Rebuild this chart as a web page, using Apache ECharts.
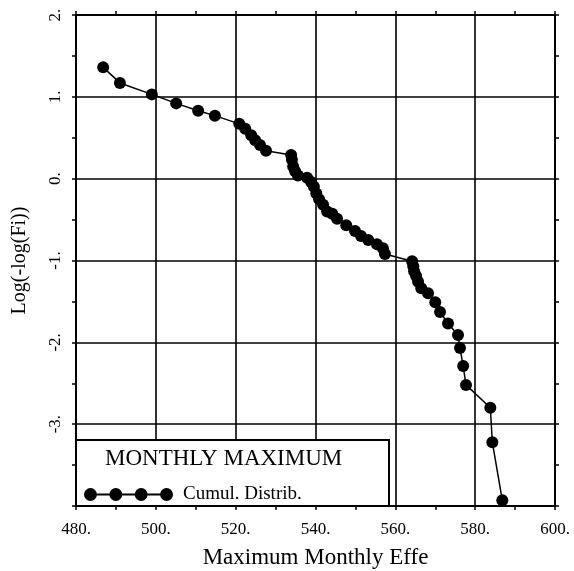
<!DOCTYPE html>
<html>
<head>
<meta charset="utf-8">
<script src="https://cdn.jsdelivr.net/npm/echarts@6/dist/echarts.min.js"></script>
<style>
  html, body { margin: 0; padding: 0; background: #fff; }
  #chart { width: 574px; height: 571px; }
</style>
</head>
<body>
<div id="chart"></div>
<script>
const xValues = [
  486.8, 491.0, 499.0, 505.1, 510.6, 514.8, 520.9, 522.4, 523.9, 524.9,
  526.1, 527.6, 533.9, 534.1, 534.4, 534.9, 535.6, 537.9, 538.9, 539.6,
  540.2, 540.9, 541.9, 542.9, 544.2, 545.4, 547.7, 549.9, 551.4, 553.2,
  555.4, 556.9, 557.4, 564.2, 564.5, 564.7, 565.2, 565.7, 566.5, 568.2,
  570.0, 571.2, 573.2, 575.7, 576.2, 577.0, 577.7, 583.8, 584.3, 586.8,
];
const yValues = [
  1.36, 1.17, 1.03, 0.92, 0.83, 0.77, 0.67, 0.61, 0.53, 0.47,
  0.41, 0.34, 0.29, 0.23, 0.15, 0.09, 0.04, 0.01, -0.04, -0.10,
  -0.18, -0.25, -0.32, -0.40, -0.43, -0.49, -0.57, -0.64, -0.70, -0.75,
  -0.80, -0.85, -0.92, -1.01, -1.07, -1.13, -1.19, -1.26, -1.34, -1.40,
  -1.51, -1.63, -1.77, -1.91, -2.07, -2.29, -2.52, -2.80, -3.22, -3.93,
];
const xTicks = [480, 500, 520, 540, 560, 580, 600];
const yTicks = [-3, -2, -1, 0, 1, 2];
const seriesName = "Cumul. Distrib.";
const boxTitle = "MONTHLY MAXIMUM";

const serif = "Liberation Serif";
const ink = "#000";

// legend icon: four dots joined by a line
const dotX = [6.5, 32, 57.5, 83];
let iconPath = "";
dotX.forEach((cx, i) => {
  iconPath += `M${cx - 6.5},6.5 A6.5,6.5 0 1,1 ${cx + 6.5},6.5 A6.5,6.5 0 1,1 ${cx - 6.5},6.5 Z `;
  if (i < dotX.length - 1) {
    const next = dotX[i + 1];
    iconPath += `M${cx + 6},5.5 L${next - 6},5.5 L${next - 6},7.5 L${cx + 6},7.5 Z `;
  }
});

const chart = echarts.init(document.getElementById("chart"));

const tickStyle = { color: ink, width: 1.5 };
const baseX = {
  type: "value",
  min: xTicks[0],
  max: xTicks[xTicks.length - 1],
  interval: xTicks[1] - xTicks[0],
  axisLine: { show: true, onZero: false, lineStyle: { color: ink, width: 2 } },
  axisTick: { show: true, length: 4, lineStyle: tickStyle },
  minorTick: { show: true, splitNumber: 2, length: 4, lineStyle: tickStyle },
};
const baseY = {
  type: "value",
  min: -4,
  max: yTicks[yTicks.length - 1],
  interval: 1,
  axisLine: { show: true, onZero: false, lineStyle: { color: ink, width: 2 } },
  axisTick: { show: true, length: 4, lineStyle: tickStyle },
  minorTick: { show: true, splitNumber: 2, length: 4, lineStyle: tickStyle },
};

chart.setOption({
  animation: false,
  backgroundColor: "#fff",
  grid: { left: 76, right: 19, top: 15, bottom: 65, containLabel: false, outerBoundsMode: "none" },
  title: {
    text: boxTitle,
    left: 100,
    top: 442,
    z: 10,
    textStyle: { fontFamily: serif, fontSize: 23, fontWeight: "normal", color: ink },
  },
  legend: {
    data: [seriesName],
    left: 79,
    top: 480,
    z: 10,
    icon: "path://" + iconPath,
    itemWidth: 89,
    itemHeight: 13,
    textStyle: { fontFamily: serif, fontSize: 19, color: ink, padding: [0, 0, 0, 5] },
  },
  graphic: [{
    type: "rect",
    z: 5,
    shape: { x: 76, y: 440, width: 313, height: 66 },
    style: { fill: "#fff", stroke: ink, lineWidth: 2 },
  }],
  xAxis: [
    {
      ...baseX,
      position: "bottom",
      splitLine: { show: true, lineStyle: { color: ink, width: 1.6 } },
      axisLabel: {
        margin: 15,
        fontFamily: serif,
        fontSize: 17,
        color: ink,
        formatter: (v) => v + ".",
      },
      name: "Maximum Monthly Effe",
      nameLocation: "middle",
      nameGap: 40,
      nameTextStyle: { fontFamily: serif, fontSize: 23, color: ink },
    },
    {
      ...baseX,
      position: "top",
      splitLine: { show: false },
      axisLabel: { show: false },
    },
  ],
  yAxis: [
    {
      ...baseY,
      position: "left",
      splitLine: { show: true, lineStyle: { color: ink, width: 1.6 } },
      axisLabel: {
        rotate: 90,
        margin: 12,
        fontFamily: serif,
        fontSize: 17,
        color: ink,
        formatter: (v) => (yTicks.includes(v) ? v + "." : ""),
      },
      name: "Log(-log(Fi))",
      nameLocation: "middle",
      nameGap: 46,
      nameTextStyle: { fontFamily: serif, fontSize: 20, color: ink },
    },
    {
      ...baseY,
      position: "right",
      splitLine: { show: false },
      axisLabel: { show: false },
    },
  ],
  series: [{
    name: seriesName,
    type: "line",
    z: 12,
    data: xValues.map((x, i) => [x, yValues[i]]),
    symbol: "circle",
    symbolSize: 12,
    itemStyle: { color: ink },
    lineStyle: { color: ink, width: 1.5 },
  }],
});
</script>
</body>
</html>
